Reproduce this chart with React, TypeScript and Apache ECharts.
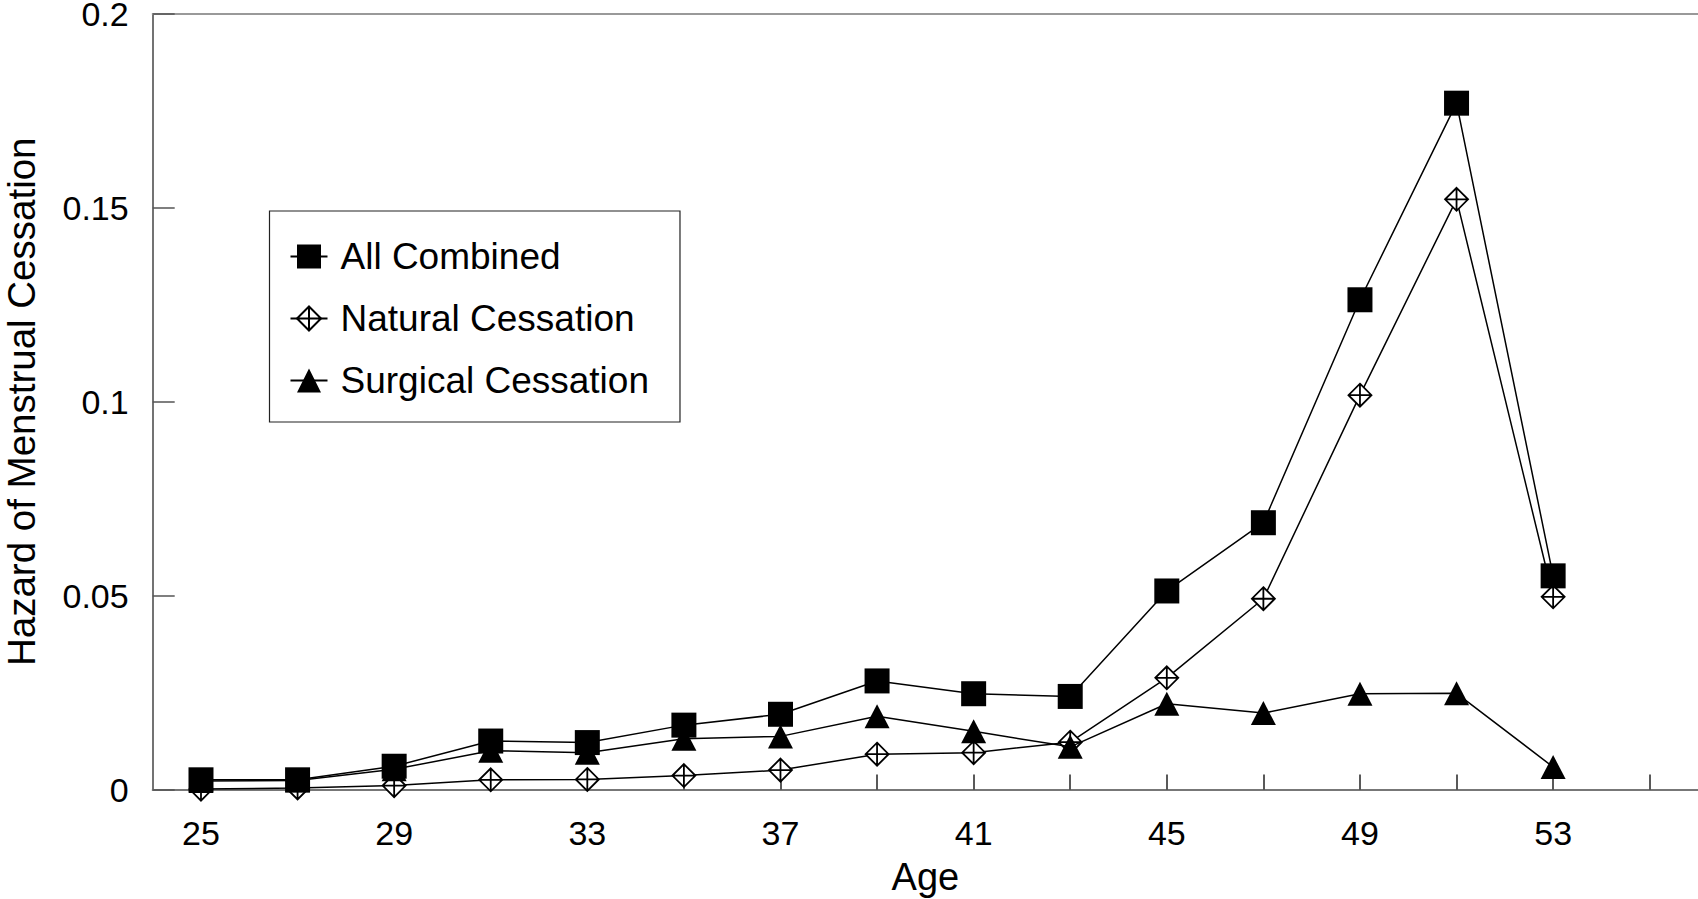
import React, { useEffect, useRef } from "react";
import * as echarts from "echarts";

const ageCategories = ["25", "27", "29", "31", "33", "35", "37", "39", "41", "43", "45", "47", "49", "51", "53", "55"];
const allCombined = [0.0025, 0.0025, 0.006, 0.0125, 0.0121, 0.0166, 0.0194, 0.028, 0.0247, 0.024, 0.0512, 0.0688, 0.1263, 0.177, 0.0551];
const naturalCessation = [0.0001, 0.0004, 0.001, 0.0025, 0.0026, 0.0036, 0.005, 0.0091, 0.0095, 0.0122, 0.0288, 0.0492, 0.1017, 0.1522, 0.0497];
const surgicalCessation = [0.0022, 0.0023, 0.0052, 0.01, 0.0095, 0.0131, 0.0137, 0.0189, 0.015, 0.011, 0.0221, 0.0197, 0.0247, 0.0248, 0.0058];
const seriesNames = ["All Combined", "Natural Cessation", "Surgical Cessation"];
const yTicks = [0, 0.05, 0.1, 0.15, 0.2];

const FONT = "'Liberation Sans', Arial, Helvetica, sans-serif";
const DIAMOND_CROSS = "path://M0,-1L1,0L0,1L-1,0ZM0,-1L0,1M-1,0L1,0";

export default function App() {
  const ref = useRef<HTMLDivElement>(null);
  useEffect(() => {
    if (!ref.current) return;
    const chart = echarts.init(ref.current, null, { renderer: "svg" });
    chart.setOption({
      animation: false,
      backgroundColor: "#ffffff",
      textStyle: { fontFamily: FONT, color: "#000" },
      grid: { left: 152.7, right: 0, top: 14, bottom: 109.5, containLabel: false, outerBoundsMode: "none" },
      legend: {
        orient: "vertical",
        left: 269.5,
        top: 211,
        data: seriesNames,
        itemWidth: 37,
        itemHeight: 30,
        itemGap: 25,
        padding: [27, 31, 23, 20],
        borderColor: "#222",
        borderWidth: 1.2,
        backgroundColor: "#fff",
        textStyle: { fontFamily: FONT, fontSize: 37, color: "#000", padding: [0, 0, 0, 8] },
      },
      xAxis: [
        {
          type: "category",
          data: ageCategories,
          boundaryGap: true,
          name: "Age",
          nameLocation: "middle",
          nameGap: 68,
          nameTextStyle: { fontFamily: FONT, fontSize: 38, color: "#000" },
          axisLine: { show: true, lineStyle: { color: "#777", width: 2 } },
          axisTick: { show: true, inside: true, length: 15, alignWithLabel: true, interval: 0, lineStyle: { color: "#222", width: 1.5 } },
          axisLabel: { show: true, interval: 1, margin: 26, fontFamily: FONT, fontSize: 34, color: "#000" },
          splitLine: { show: false },
        },
        {
          type: "category",
          data: ageCategories,
          position: "top",
          axisLine: { show: true, lineStyle: { color: "#999", width: 2 } },
          axisTick: { show: false },
          axisLabel: { show: false },
          splitLine: { show: false },
        },
      ],
      yAxis: {
        type: "value",
        min: yTicks[0],
        max: yTicks[yTicks.length - 1],
        interval: 0.05,
        name: "Hazard of Menstrual Cessation",
        nameLocation: "middle",
        nameGap: 113,
        nameTextStyle: { fontFamily: FONT, fontSize: 38.5, lineHeight: 36, color: "#000" },
        axisLine: { show: true, lineStyle: { color: "#444", width: 1.5 } },
        axisTick: { show: true, inside: true, length: 22, lineStyle: { color: "#555", width: 1.5 } },
        axisLabel: { margin: 24, fontFamily: FONT, fontSize: 34, lineHeight: 26, color: "#000", formatter: (v: number) => String(+v.toFixed(2)) },
        splitLine: { show: false },
      },
      series: [
        {
          name: seriesNames[0],
          type: "line",
          z: 4,
          data: allCombined,
          symbol: "rect",
          symbolSize: 25,
          lineStyle: { color: "#000", width: 1.5 },
          itemStyle: { color: "#000", borderColor: "#000", borderWidth: 0 },
        },
        {
          name: seriesNames[1],
          type: "line",
          z: 2,
          data: naturalCessation,
          symbol: DIAMOND_CROSS,
          symbolSize: 23,
          lineStyle: { color: "#000", width: 1.5 },
          itemStyle: { color: "#fff", borderColor: "#000", borderWidth: 1.8 },
        },
        {
          name: seriesNames[2],
          type: "line",
          z: 3,
          data: surgicalCessation,
          symbol: "triangle",
          symbolSize: [25, 24],
          lineStyle: { color: "#000", width: 1.5 },
          itemStyle: { color: "#000", borderWidth: 0 },
        },
      ],
    });
    return () => chart.dispose();
  }, []);
  return <div ref={ref} style={{ position: "fixed", left: 0, top: 0, width: 1698, height: 899 }} />;
}
